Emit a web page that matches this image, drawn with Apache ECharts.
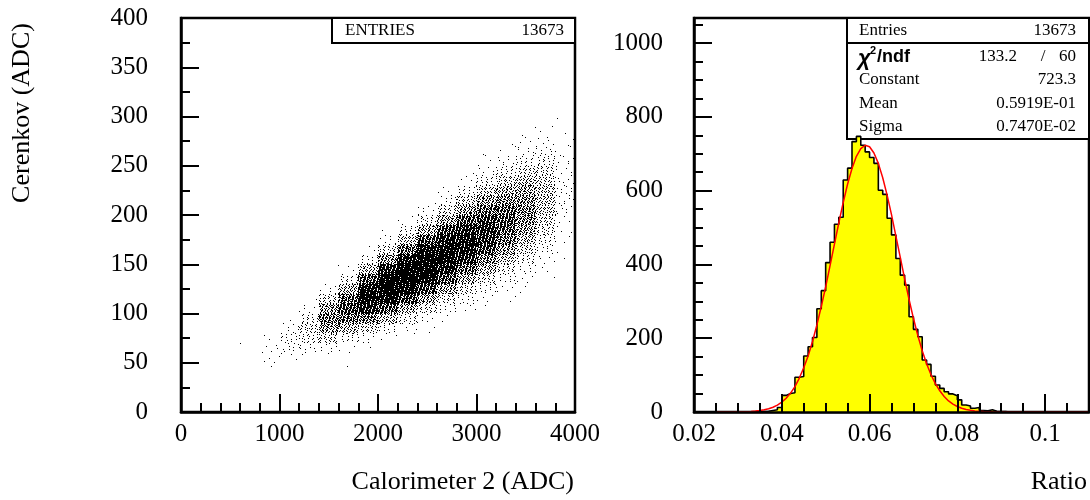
<!DOCTYPE html>
<html><head><meta charset="utf-8">
<script src="https://cdn.jsdelivr.net/npm/echarts@6/dist/echarts.min.js"></script>
<style>html,body{margin:0;padding:0;background:#fff}#c{width:1090px;height:500px}</style>
</head><body><div id="c"></div>
<script>
// ---------- Left panel: Cerenkov vs Calorimeter 2 (counts per 200 x 10 ADC cell) ----------
const calBinWidth = 200;
const cerBinWidth = 10;
const calBinStart = [600, 800, 1000, 1200, 1400, 1600, 1800, 2000, 2200, 2400, 2600, 2800, 3000, 3200, 3400, 3600, 3800];
const cerFirstBin = [60, 40, 50, 50, 50, 40, 60, 70, 70, 80, 90, 100, 100, 110, 120, 130, 150];
const cellCounts = [
  [1],
  [1, 4, 5, 2],
  [3, 10, 14, 7, 1],
  [1, 8, 23, 32, 20, 5, 1],
  [1, 7, 34, 84, 115, 82, 32, 6],
  [1, 0, 3, 15, 56, 124, 165, 131, 63, 19, 3],
  [1, 8, 36, 111, 221, 290, 249, 144, 54, 13, 2],
  [3, 14, 57, 145, 267, 348, 322, 205, 92, 30, 6, 1],
  [1, 5, 22, 70, 165, 289, 364, 352, 245, 130, 49, 15, 3],
  [2, 7, 28, 77, 166, 270, 349, 337, 260, 150, 67, 24, 6, 1],
  [2, 10, 30, 75, 148, 234, 294, 296, 237, 154, 76, 31, 10, 3],
  [4, 11, 31, 70, 131, 200, 248, 254, 213, 148, 81, 38, 15, 4, 1],
  [1, 4, 12, 30, 63, 109, 166, 199, 206, 179, 131, 81, 41, 17, 6, 2, 1],
  [2, 4, 11, 25, 49, 82, 118, 143, 146, 135, 103, 67, 37, 18, 7, 2, 1],
  [2, 4, 9, 20, 37, 57, 83, 99, 106, 94, 77, 53, 31, 16, 7, 3, 1],
  [1, 2, 5, 11, 18, 28, 38, 47, 51, 47, 38, 28, 18, 10, 5, 2, 1],
  [1, 1, 2, 3, 5, 7, 8, 8, 7, 6, 5, 3, 2, 1, 1]
];
const entriesLeft = '13673';

// ---------- Right panel: Ratio histogram (bin width 0.001 from 0.020) ----------
const ratioBinStart = 0.020;
const ratioBinWidth = 0.001;
const ratioCounts = [
  0, 0, 0, 0, 0, 0, 0, 0, 0, 0, 0, 0, 0, 0,
  1, 1, 2, 4, 6, 12,
  45, 50, 52, 94, 96, 152, 177, 202, 280, 329,
  405, 460, 509, 528, 629, 661, 733, 747, 723, 705,
  690, 674, 601, 590, 525, 480, 416, 371, 344, 258,
  224, 204, 141, 129, 97, 73, 64, 55, 49, 44,
  33, 19, 16, 10, 12, 4, 3, 6, 2, 1,
  1, 0, 0, 0, 0, 0, 0, 0, 0, 0,
  0, 0, 0, 0, 0, 0, 0, 0, 0, 0
];
// Fitted curve read at 0.001 steps from 0.025, then its flat tail end
const fitStart = 0.025;
const fitStep = 0.001;
const fitValues = [
  0, 0, 0.1, 0.1, 0.2, 0.4, 0.6, 1.0, 1.6, 2.5,
  3.8, 5.9, 8.8, 12.9, 18.8, 26.7, 37.3, 51.3, 69, 92,
  120, 152, 191, 236, 286, 339, 397, 455, 513, 568,
  618, 660, 693, 714, 723, 719, 702, 674, 635, 588,
  535, 477, 419, 361, 305, 254, 207, 166, 131, 101,
  77, 57.5, 42, 30, 21.5, 14.9, 10.2, 6.9, 4.5, 2.9,
  1.9, 1.2, 0.7, 0.4, 0.25, 0.1
];
const fitTail = [0.110, 0];
const statLabels = ['Entries', 'Constant', 'Mean', 'Sigma'];
const statValues = ['13673', '723.3', '0.5919E-01', '0.7470E-02'];
const chi2Value = '133.2';
const ndfValue = '60';

// ---------- Axis ranges ----------
const leftXRange = [0, 4000], leftYRange = [0, 400];
const rightXRange = [0.02, 0.11], rightYRange = [0, 1068];

// ---------- build ----------
const cellData = [];
calBinStart.forEach((x0, c) => {
  cellCounts[c].forEach((n, k) => {
    if (n > 0) cellData.push([x0, cerFirstBin[c] + k * cerBinWidth, n]);
  });
});
const histData = ratioCounts.map((v, i) => [+(ratioBinStart + i * ratioBinWidth).toFixed(4), v]);
histData.push([+(ratioBinStart + ratioCounts.length * ratioBinWidth).toFixed(4), ratioCounts[ratioCounts.length - 1]]);
const fitData = fitValues.map((v, i) => [+(fitStart + i * fitStep).toFixed(4), v]);
fitData.push(fitTail);

// Each cell's count is drawn as a stipple of 1-px dots spread evenly over the cell.
const R1 = 0.7548776662466927, R2 = 0.5698402909980532;
function renderCell(params, api) {
  const x0 = api.value(0), y0 = api.value(1), n = api.value(2);
  const a = api.coord([x0, y0]);
  const b = api.coord([x0 + calBinWidth, y0 + cerBinWidth]);
  const w = b[0] - a[0], h = a[1] - b[1];
  const su = (params.dataIndex * 0.6180339887) % 1;
  const sv = (params.dataIndex * 0.4142135624) % 1;
  let d = '';
  for (let i = 0; i < n; i++) {
    const u = (su + i * R1) % 1, v = (sv + i * R2) % 1;
    const px = Math.floor(a[0] + u * w), py = Math.floor(b[1] + v * h);
    d += 'M' + px + ' ' + py + 'h1v1h-1z';
  }
  return { type: 'path', shape: { pathData: d }, style: { fill: '#000' } };
}

const serif = 'Liberation Serif';
const lab = { fontFamily: serif, fontSize: 25, color: '#000' };
const axLine = { show: true, lineStyle: { color: '#000', width: 2.5 } };
const majTick = { show: true, inside: true, length: 18, lineStyle: { color: '#000', width: 2 } };
const minTick = { show: true, inside: true, length: 9, lineStyle: { color: '#000', width: 2 } };
const fmtInt = v => String(Math.round(v));
const fmtRatio = v => String(parseFloat(v.toFixed(4)));
const gridBase = { top: 18, height: 394, show: true, borderColor: '#000', borderWidth: 2.5, backgroundColor: 'transparent', containLabel: false, outerBoundsMode: 'none' };

const option = {
  animation: false,
  backgroundColor: '#fff',
  grid: [
    Object.assign({}, gridBase, { left: 181, width: 394 }),
    Object.assign({}, gridBase, { left: 694, width: 395 }),
    Object.assign({}, gridBase, { left: 694, width: 395, show: false })
  ],
  xAxis: [
    { gridIndex: 0, type: 'value', min: leftXRange[0], max: leftXRange[1], interval: 1000, z: 5,
      axisLine: axLine, axisTick: majTick,
      minorTick: Object.assign({ splitNumber: 5 }, minTick),
      splitLine: { show: false }, minorSplitLine: { show: false },
      axisLabel: Object.assign({ margin: 10, formatter: fmtInt }, lab) },
    { gridIndex: 1, type: 'value', min: rightXRange[0], max: rightXRange[1], interval: 0.02, z: 5,
      axisLine: axLine, axisTick: majTick, splitLine: { show: false },
      axisLabel: Object.assign({ margin: 10, formatter: fmtRatio, showMaxLabel: false }, lab) },
    { gridIndex: 2, type: 'value', min: rightXRange[0], max: rightXRange[1], interval: 0.005, z: 5,
      axisLine: { show: false }, axisTick: minTick, splitLine: { show: false }, axisLabel: { show: false } }
  ],
  yAxis: [
    { gridIndex: 0, type: 'value', min: leftYRange[0], max: leftYRange[1], interval: 50, z: 5,
      axisLine: axLine, axisTick: majTick,
      minorTick: Object.assign({ splitNumber: 2 }, minTick),
      splitLine: { show: false }, minorSplitLine: { show: false },
      axisLabel: Object.assign({ margin: 33, formatter: fmtInt }, lab) },
    { gridIndex: 1, type: 'value', min: rightYRange[0], max: rightYRange[1], interval: 200, z: 5,
      axisLine: axLine, axisTick: majTick, splitLine: { show: false },
      axisLabel: Object.assign({ margin: 31, formatter: fmtInt, showMaxLabel: false }, lab) },
    { gridIndex: 2, type: 'value', min: rightYRange[0], max: rightYRange[1], interval: 50, z: 5,
      axisLine: { show: false }, axisTick: minTick, splitLine: { show: false }, axisLabel: { show: false } }
  ],
  series: [
    { type: 'custom', xAxisIndex: 0, yAxisIndex: 0, data: cellData, renderItem: renderCell, silent: true, clip: true, z: 2 },
    { type: 'line', xAxisIndex: 1, yAxisIndex: 1, data: histData, step: 'end', symbol: 'none', silent: true, z: 2,
      lineStyle: { color: '#000', width: 1.6 }, areaStyle: { color: '#ffff00', opacity: 1 } },
    { type: 'line', xAxisIndex: 1, yAxisIndex: 1, data: fitData, symbol: 'none', silent: true, z: 3, smooth: false,
      lineStyle: { color: '#ff0000', width: 1.5 } }
  ],
  graphic: [
    { type: 'text', x: 22, y: 113, rotation: Math.PI / 2, z: 10,
      style: { text: 'Cerenkov (ADC)', font: '26px "Liberation Serif"', fill: '#000', textAlign: 'center', textVerticalAlign: 'middle', verticalAlign: 'middle' } },
    { type: 'text', x: 574, y: 482, z: 10,
      style: { text: 'Calorimeter 2 (ADC)', font: '26px "Liberation Serif"', fill: '#000', textAlign: 'right', textVerticalAlign: 'middle', verticalAlign: 'middle' } },
    { type: 'text', x: 1087, y: 482, z: 10,
      style: { text: 'Ratio', font: '26px "Liberation Serif"', fill: '#000', textAlign: 'right', textVerticalAlign: 'middle', verticalAlign: 'middle' } },
    // left stats box
    { type: 'rect', shape: { x: 332, y: 18, width: 243, height: 25 }, z: 1,
      style: { fill: '#fff', stroke: '#000', lineWidth: 2 } },
    { type: 'text', x: 345, y: 31, z: 10,
      style: { text: 'ENTRIES', font: '17px "Liberation Serif"', fill: '#000', textAlign: 'left', textVerticalAlign: 'middle', verticalAlign: 'middle' } },
    { type: 'text', x: 564, y: 31, z: 10,
      style: { text: entriesLeft, font: '17px "Liberation Serif"', fill: '#000', textAlign: 'right', textVerticalAlign: 'middle', verticalAlign: 'middle' } },
    // right stats box
    { type: 'rect', shape: { x: 847, y: 18, width: 242, height: 121 }, z: 1,
      style: { fill: '#fff', stroke: '#000', lineWidth: 2 } },
    { type: 'line', shape: { x1: 847, y1: 43, x2: 1089, y2: 43 }, z: 1,
      style: { stroke: '#000', lineWidth: 2 } },
    { type: 'text', x: 859, y: 31, z: 10, style: { text: statLabels[0], font: '17px "Liberation Serif"', fill: '#000', textVerticalAlign: 'middle', verticalAlign: 'middle' } },
    { type: 'text', x: 1076, y: 31, z: 10, style: { text: statValues[0], font: '17px "Liberation Serif"', fill: '#000', textAlign: 'right', textVerticalAlign: 'middle', verticalAlign: 'middle' } },
    { type: 'text', x: 858, y: 59, z: 10, style: { text: 'χ', font: 'italic bold 22px "Liberation Sans"', fill: '#000', textVerticalAlign: 'middle', verticalAlign: 'middle' } },
    { type: 'text', x: 870, y: 51, z: 10, style: { text: '2', font: 'bold 11px "Liberation Sans"', fill: '#000', textVerticalAlign: 'middle', verticalAlign: 'middle' } },
    { type: 'text', x: 877, y: 57, z: 10, style: { text: '/ndf', font: 'bold 18px "Liberation Sans"', fill: '#000', textVerticalAlign: 'middle', verticalAlign: 'middle' } },
    { type: 'text', x: 1017, y: 57, z: 10, style: { text: chi2Value, font: '17px "Liberation Serif"', fill: '#000', textAlign: 'right', textVerticalAlign: 'middle', verticalAlign: 'middle' } },
    { type: 'text', x: 1043, y: 57, z: 10, style: { text: '/', font: '17px "Liberation Serif"', fill: '#000', textAlign: 'center', textVerticalAlign: 'middle', verticalAlign: 'middle' } },
    { type: 'text', x: 1076, y: 57, z: 10, style: { text: ndfValue, font: '17px "Liberation Serif"', fill: '#000', textAlign: 'right', textVerticalAlign: 'middle', verticalAlign: 'middle' } },
    { type: 'text', x: 859, y: 80, z: 10, style: { text: statLabels[1], font: '17px "Liberation Serif"', fill: '#000', textVerticalAlign: 'middle', verticalAlign: 'middle' } },
    { type: 'text', x: 1076, y: 80, z: 10, style: { text: statValues[1], font: '17px "Liberation Serif"', fill: '#000', textAlign: 'right', textVerticalAlign: 'middle', verticalAlign: 'middle' } },
    { type: 'text', x: 859, y: 104, z: 10, style: { text: statLabels[2], font: '17px "Liberation Serif"', fill: '#000', textVerticalAlign: 'middle', verticalAlign: 'middle' } },
    { type: 'text', x: 1076, y: 104, z: 10, style: { text: statValues[2], font: '17px "Liberation Serif"', fill: '#000', textAlign: 'right', textVerticalAlign: 'middle', verticalAlign: 'middle' } },
    { type: 'text', x: 859, y: 127, z: 10, style: { text: statLabels[3], font: '17px "Liberation Serif"', fill: '#000', textVerticalAlign: 'middle', verticalAlign: 'middle' } },
    { type: 'text', x: 1076, y: 127, z: 10, style: { text: statValues[3], font: '17px "Liberation Serif"', fill: '#000', textAlign: 'right', textVerticalAlign: 'middle', verticalAlign: 'middle' } }
  ]
};
const chart = echarts.init(document.getElementById('c'), null, { renderer: 'canvas' });
chart.setOption(option);
</script></body></html>
